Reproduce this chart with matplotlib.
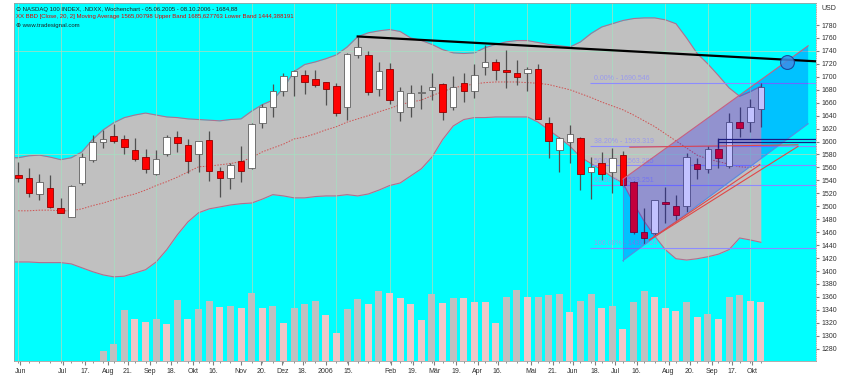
import matplotlib
matplotlib.use('Agg')
import matplotlib.pyplot as plt
import numpy as np

plt.rcParams['font.family'] = ['Liberation Sans', 'DejaVu Sans']

# weekly candles, 05.06.2005 .. 08.10.2006 (index 0..70)
opens = [1548.5, 1544.4, 1518.7, 1528.9, 1497.1, 1484.1, 1535.7, 1571.7, 1599.1, 1608.8,
         1603.7, 1587.2, 1575.9, 1550.1, 1580.5, 1606.8, 1594.9, 1581.0, 1602.6, 1554.7,
         1543.4, 1570.2, 1558.9, 1629.4, 1653.2, 1677.3, 1701.5, 1703.1, 1696.9, 1691.8,
         1686.1, 1653.2, 1734.0, 1734.0, 1681.0, 1711.9, 1645.0, 1653.2, 1674.8, 1679.9,
         1688.7, 1654.1, 1690.3, 1677.3, 1715.0, 1723.6, 1710.8, 1705.7, 1705.7, 1712.4,
         1628.4, 1587.2, 1599.1, 1605.3, 1552.7, 1567.5, 1552.7, 1579.4, 1538.2, 1460.9,
         1458.4, 1506.3, 1500.6, 1500.6, 1565.0, 1557.3, 1588.2, 1562.4, 1630.4, 1630.9,
         1650.1]
highs = [1569.1, 1558.9, 1550.1, 1548.5, 1512.5, 1532.5, 1582.1, 1610.4, 1618.1, 1626.9,
         1610.4, 1606.2, 1588.2, 1587.2, 1610.4, 1617.0, 1603.7, 1601.6, 1616.5, 1561.4,
         1566.6, 1593.4, 1629.4, 1658.3, 1689.2, 1705.7, 1710.8, 1710.8, 1710.8, 1692.7,
         1690.3, 1736.6, 1761.4, 1739.1, 1722.1, 1721.2, 1684.0, 1687.6, 1687.6, 1705.7,
         1690.3, 1701.5, 1706.6, 1719.6, 1749.5, 1727.4, 1741.7, 1726.3, 1715.0, 1720.1,
         1638.6, 1607.3, 1625.8, 1606.8, 1576.8, 1584.5, 1589.8, 1586.1, 1539.7, 1497.1,
         1509.9, 1530.5, 1517.6, 1583.0, 1575.3, 1593.4, 1605.3, 1643.9, 1653.2, 1665.5,
         1690.5]
lows = [1538.2, 1515.0, 1509.9, 1497.1, 1489.0, 1483.2, 1533.1, 1569.1, 1589.8, 1597.5,
        1581.0, 1570.6, 1552.1, 1548.5, 1578.4, 1584.5, 1551.2, 1553.6, 1539.7, 1515.0,
        1526.4, 1538.2, 1557.8, 1620.7, 1637.7, 1670.6, 1669.6, 1673.7, 1684.1, 1656.7,
        1639.7, 1633.5, 1728.9, 1672.2, 1669.6, 1658.3, 1632.0, 1637.7, 1650.1, 1663.4,
        1633.5, 1649.0, 1661.8, 1667.1, 1703.1, 1695.4, 1682.5, 1687.6, 1677.3, 1634.6,
        1574.3, 1553.6, 1566.6, 1525.3, 1511.0, 1540.8, 1520.2, 1530.5, 1457.3, 1441.0,
        1455.8, 1474.8, 1476.4, 1491.8, 1541.9, 1551.2, 1558.9, 1558.9, 1607.7, 1614.5,
        1622.3]
closes = [1543.4, 1520.2, 1537.2, 1498.6, 1489.3, 1532.0, 1576.8, 1600.0, 1604.2, 1601.1,
          1591.3, 1572.8, 1558.3, 1572.8, 1606.8, 1598.5, 1570.6, 1601.1, 1555.2, 1543.4,
          1564.0, 1555.2, 1627.4, 1653.2, 1678.8, 1700.5, 1708.2, 1691.8, 1687.6, 1681.5,
          1644.8, 1735.1, 1745.9, 1676.4, 1709.7, 1663.4, 1678.0, 1674.8, 1676.4, 1683.5,
          1646.4, 1685.0, 1678.8, 1703.1, 1722.1, 1710.8, 1707.3, 1699.5, 1712.4, 1634.6,
          1601.6, 1605.3, 1611.4, 1550.1, 1561.4, 1550.1, 1574.3, 1533.1, 1460.9, 1450.7,
          1509.9, 1503.3, 1486.7, 1575.9, 1557.3, 1588.2, 1574.3, 1630.9, 1621.6, 1652.6,
          1684.9]

# Bollinger bands (20, 2)
bb_upper = [1575, 1578, 1579, 1576, 1572, 1575, 1584, 1603, 1618, 1629,
            1637, 1641, 1644, 1641, 1638, 1637, 1635, 1634, 1633, 1632,
            1634, 1635, 1647, 1657, 1664, 1683, 1708, 1719, 1723, 1728,
            1734, 1746, 1762, 1768, 1771, 1773, 1770, 1760, 1756, 1750,
            1742, 1737, 1736, 1737, 1745, 1750, 1754, 1756, 1756, 1753,
            1750, 1748, 1746, 1754, 1767, 1777, 1782, 1787, 1790, 1791,
            1791, 1788, 1782, 1760, 1736, 1720, 1702, 1683, 1670, 1677,
            1685.6]
bb_middle = [1493, 1493, 1494, 1494, 1493, 1493, 1496, 1501, 1505, 1510,
             1515, 1519, 1525, 1532, 1538, 1545, 1553, 1561, 1562, 1564,
             1566, 1569, 1575, 1584, 1590, 1596, 1604, 1607, 1612, 1618,
             1623, 1630, 1635, 1640, 1646, 1651, 1657, 1661, 1664, 1671,
             1677, 1683, 1686, 1689, 1691, 1692, 1692, 1692, 1691, 1690,
             1688, 1684, 1680, 1674, 1668, 1661, 1655, 1649, 1641, 1632,
             1623, 1612, 1601, 1590, 1579, 1573, 1569, 1565, 1561, 1560,
             1565.0]
bb_lower = [1414, 1414, 1413, 1413, 1413, 1411, 1405, 1399, 1394, 1391,
            1392, 1397, 1402, 1414, 1433, 1456, 1476, 1490, 1496, 1499,
            1502, 1504, 1505, 1511, 1518, 1516, 1513, 1513, 1515, 1516,
            1516, 1518, 1516, 1519, 1525, 1532, 1536, 1547, 1558, 1576,
            1603, 1624, 1634, 1637, 1637, 1638, 1638, 1638, 1638, 1630,
            1618, 1606, 1593, 1576, 1566, 1556, 1545, 1536, 1505, 1477,
            1454, 1433, 1419, 1417, 1419, 1422, 1426, 1433, 1451, 1448,
            1444.4]

# volume from week 8 on
vol_start = 8
volume = [100, 167, 510, 424, 390, 417, 374, 610, 424, 524,
          600, 544, 550, 527, 677, 527, 550, 377, 534, 574,
          600, 460, 284, 524, 624, 567, 700, 684, 634, 574,
          407, 667, 584, 634, 627, 594, 590, 377, 644, 710,
          640, 643, 657, 674, 494, 600, 674, 534, 550, 317,
          594, 700, 640, 534, 500, 594, 440, 467, 417, 640,
          657, 600, 590]

month_weeks = [0, 4, 9, 13, 17, 22, 26, 30, 35, 39, 43, 48, 52, 56, 61, 65, 69]
tick_pos = [0.2, 4.2, 6.3, 8.5, 10.3, 12.4, 14.4, 16.5, 18.4, 21.0, 22.9, 24.9, 26.8,
            29.0, 31.1, 35.1, 37.2, 39.2, 41.3, 43.3, 45.2, 48.3, 50.4, 52.3, 54.4,
            56.3, 58.3, 61.3, 63.3, 65.4, 67.3, 69.2]
tick_text = ['Jun', 'Jul', '17.', 'Aug', '21.', 'Sep', '18.', 'Okt', '16.', 'Nov', '20.',
             'Dez', '18.', '2006', '15.', 'Feb', '19.', 'Mär', '19.', 'Apr', '16.', 'Mai',
             '21.', 'Jun', '18.', 'Jul', '16.', 'Aug', '20.', 'Sep', '17.', 'Okt']

fib_high = 1690.546
fib_low = 1436.024
fib_pcts = [0.0, 38.2, 50.0, 61.8, 100.0]

weeks = np.arange(len(closes))
o = np.array(opens); c = np.array(closes)

fig = plt.figure(figsize=(8.5, 3.79), dpi=100)
fig.patch.set_facecolor('white')
ax = fig.add_axes([14 / 850, 18 / 379, 802 / 850, 358 / 379])
ax.set_facecolor('#00ffff')
ax.set_xlim(-0.4, 75.2)
ax.set_ylim(1261, 1814)

# bands
xb = np.r_[-0.4, weeks]
up = np.r_[bb_upper[0], bb_upper]
lo = np.r_[bb_lower[0], bb_lower]
ax.fill_between(xb, lo, up, color='#c0c0c0', lw=0, zorder=1)
ax.plot(xb, up, color='#b07090', lw=0.8, zorder=2)
ax.plot(xb, lo, color='#b07090', lw=0.8, zorder=2)

# grid
for m in month_weeks:
    ax.axvline(m, color='#a8dcc0', lw=0.6, alpha=0.9, zorder=2)
for h in [1740, 1580]:
    ax.axhline(h, color='#a8dcc0', lw=0.6, alpha=0.9, zorder=2)

ax.plot(weeks, bb_middle, color='#d05050', lw=0.7, ls=(0, (1.5, 1.5)), zorder=2.5)

# fibonacci retracement (behind the candles)
for pct in fib_pcts:
    lvl = fib_high - (fib_high - fib_low) * pct / 100
    ax.hlines(lvl, 53.9, 75.2, color='#8c8cff', lw=0.8, zorder=2.7)
    ax.text(54.3, lvl + 0.8, '%.2f%% - %.3f' % (pct, lvl), fontsize=5,
            color='#9a9aee', va='bottom', ha='left', zorder=2.8)

# candles
up_mask = c >= o
ax.vlines(weeks, lows, highs, color='#505050', lw=0.9, zorder=3)
body_h = np.maximum(np.abs(c - o), 1.5)
ax.bar(weeks, body_h, bottom=np.minimum(o, c), width=0.62,
       color=np.where(up_mask, 'white', '#ff0000'),
       edgecolor=np.where(up_mask, '#606060', '#900000'), lw=0.6, zorder=4)

# volume
axv = ax.twinx()
axv.set_ylim(0, 3590)
vw = weeks[vol_start:]
vcol = ['#c0c0c0'] + ['#c0c0c0' if volume[k] >= volume[k - 1] else '#f0c8c8'
                      for k in range(1, len(volume))]
axv.bar(vw, volume, width=0.66, color=vcol, lw=0, zorder=1)
axv.set_yticks([])
for s in axv.spines.values():
    s.set_visible(False)

# trend channel
ch_x = [57.0, 74.46, 74.46, 57.0]
ch_y = [1416.1, 1627.4, 1747.9, 1541.9]
ax.fill(ch_x, ch_y, color='#0000ff', alpha=0.24, lw=0, zorder=6)
ax.plot([57.0, 74.46], [1541.9, 1747.9], color='#c86080', lw=0.8, zorder=6.5)
ax.plot([57.0, 74.46], [1416.1, 1627.4], color='#5a8ae0', lw=0.8, zorder=6.5)
ax.plot([57.0, 57.0], [1416.1, 1541.9], color='#5a8ae0', lw=0.6, zorder=6.5)

# red helper lines
ax.plot([59.5, 73.5], [1448.1, 1592.4], color='#e04848', lw=0.8, zorder=7)
ax.plot([59.5, 69.9], [1448.1, 1564.0], color='#e04848', lw=0.8, zorder=7)
ax.plot([57.65, 73.5], [1591.3, 1594.9], color='#e04848', lw=0.8, zorder=7)

# navy horizontals
ax.hlines([1603.4, 1598.8], 66.0, 75.2, color='#1a1a80', lw=0.9, zorder=7)
ax.vlines(66.0, 1589.8, 1603.7, color='#1a1a80', lw=0.9, zorder=7)

# resistance line + marker
ax.plot([32.0, 76.0], [1762.3, 1723.2], color='black', lw=1.6, zorder=8)
ax.plot(72.5, 1723.6, 'o', ms=10, mfc='#3a8ee8', mec='#1a3a90', mew=0.8,
        alpha=0.85, zorder=9)

# axes styling
ax.yaxis.tick_right()
ax.set_yticks(np.arange(1280, 1781, 20))
ax.tick_params(axis='y', labelsize=5, length=2, color='#808080', pad=2,
               labelcolor='#303030')
ax.set_xticks(tick_pos)
ax.set_xticklabels(tick_text)
ax.set_xticks(weeks, minor=True)
ax.tick_params(axis='x', which='major', labelsize=5, length=3, color='#808080',
               pad=2, labelcolor='#303030')
ax.tick_params(axis='x', which='minor', length=1.5, color='#808080')
for s in ax.spines.values():
    s.set_color('#a0a0a0')
    s.set_linewidth(0.6)
ax.spines['right'].set_linestyle(':')

fig.text(822 / 850, 1 - 9 / 379, 'USD', fontsize=5, va='center', color='#303030')

hdr = ['Liberation Sans Narrow', 'Liberation Sans', 'DejaVu Sans']
ax.text(0.0025, 0.983, '\u2299 NASDAQ 100 INDEX, .NDXX, Wochenchart - 05.06.2005 - 08.10.2006 - 1684,88',
        transform=ax.transAxes, fontsize=4.3, family=hdr, va='center', color='#202020', zorder=10)
ax.text(0.0025, 0.961, 'XX BBD [Close, 20, 2] Moving Average 1565,00798 Upper Band 1685,627763 Lower Band 1444,388191',
        transform=ax.transAxes, fontsize=4.3, family=hdr, va='center', color='#e00000', zorder=10)
ax.text(0.0025, 0.938, '\u2295 www.tradesignal.com',
        transform=ax.transAxes, fontsize=4.3, family=hdr, va='center', color='#202020', zorder=10)

fig.savefig('out.png', dpi=100)
